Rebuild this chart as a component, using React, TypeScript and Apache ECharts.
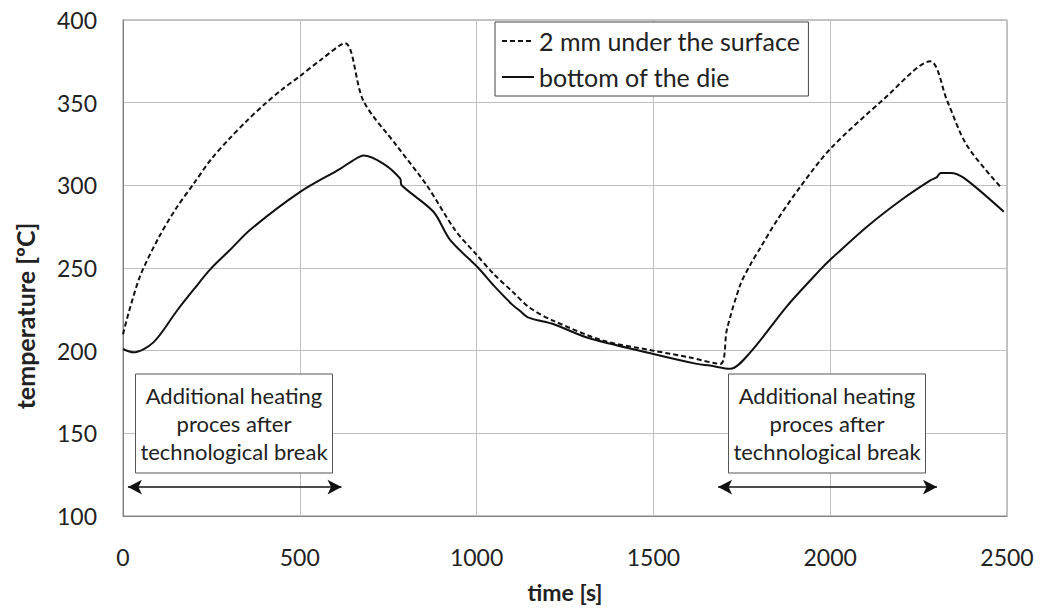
import React, { useEffect, useRef } from "react";
import * as echarts from "echarts";

const surfaceTime = [0, 20, 50, 100, 150, 200, 250, 300, 350, 400, 450, 500, 560, 628, 680, 774, 859, 939, 1000, 1050, 1100, 1150, 1218, 1359, 1500, 1600, 1689, 1708, 1746, 1774, 1802, 1850, 1915, 2000, 2151, 2283, 2331, 2387, 2486];
const surfaceTemp = [210, 226, 246, 268, 286, 301, 316, 328, 339, 349, 358, 366, 376, 386, 351, 324, 300, 273, 258, 246, 236, 226, 218, 206, 200, 196, 192, 213, 240, 252, 262, 279, 299, 322, 352, 375, 351, 324, 298];

const bottomTime = [0, 29, 86, 152, 200, 246, 303, 359, 501, 614, 650, 680, 737, 784, 788, 878, 925, 1005, 1050, 1100, 1123, 1147, 1218, 1312, 1500, 1623, 1660, 1717, 1774, 1878, 1972, 2000, 2104, 2200, 2283, 2302, 2312, 2340, 2378, 2491];
const bottomTemp = [201, 199, 205, 224, 237, 249, 261, 273, 296, 310, 315, 318, 313, 304, 300, 284, 267, 250, 239, 228, 224, 220, 216, 208, 198, 192, 191, 189, 199, 227, 249, 255, 275, 291, 303, 305, 307.5, 307.5, 304.5, 284];

const seriesNames = ["2 mm under the surface", "bottom of the die"];
const arrowRanges = [
  [14, 618],
  [1683, 2302],
];
const arrowLevel = 117.5;
const boxText = "Additional heating\nproces after\ntechnological break";
const yTitle = "temperature [ºC]";
const xTitle = "time [s]";

const FONT = "Lato";

export default function App() {
  const ref = useRef<HTMLDivElement>(null);
  useEffect(() => {
    document.body.style.margin = "0";
    const chart = echarts.init(ref.current!, undefined, { renderer: "svg" });
    const surfaceData = surfaceTime.map((t, i) => [t, surfaceTemp[i]]);
    const bottomData = bottomTime.map((t, i) => [t, bottomTemp[i]]);
    const box = (cx: number) => ({
      type: "group",
      children: [
        {
          type: "rect",
          shape: { x: cx - 98.5, y: 374, width: 197, height: 99 },
          style: { fill: "#fff", stroke: "#555", lineWidth: 1 },
          z: 10,
        },
        {
          type: "text",
          x: cx,
          y: 423.5,
          z: 11,
          style: {
            text: boxText,
            align: "center",
            verticalAlign: "middle",
            font: `22px ${FONT}`,
            lineHeight: 28,
            fill: "#222",
          },
        },
      ],
    });
    chart.setOption({
      animation: false,
      backgroundColor: "#fff",
      textStyle: { fontFamily: FONT },
      grid: {
        left: 123,
        right: 33,
        top: 20,
        bottom: 89,
        show: true,
        borderColor: "#8a8a8a",
        borderWidth: 1,
      },
      legend: {
        orient: "vertical",
        left: 495,
        top: 22,
        backgroundColor: "#fff",
        borderColor: "#444",
        borderWidth: 1,
        borderRadius: 0,
        padding: [6, 8, 6, 6],
        itemWidth: 32,
        itemHeight: 14,
        itemGap: 10,
        itemStyle: { opacity: 0 },
        textStyle: { fontSize: 25, color: "#222", fontFamily: FONT, lineHeight: 26 },
        data: seriesNames,
      },
      xAxis: {
        type: "value",
        min: 0,
        max: 2500,
        interval: 500,
        name: xTitle,
        nameLocation: "middle",
        nameGap: 64,
        nameTextStyle: { fontSize: 23, fontWeight: "bold", color: "#222", fontFamily: FONT },
        axisLine: { show: true, lineStyle: { color: "#808080", width: 1 } },
        axisTick: { show: false },
        axisLabel: {
          fontSize: 23,
          color: "#222",
          margin: 29,
          fontFamily: FONT,
          formatter: (v: number) => String(v),
        },
        splitLine: { show: true, lineStyle: { color: "#c0c0c0", width: 1 } },
      },
      yAxis: {
        type: "value",
        min: 100,
        max: 400,
        interval: 50,
        axisLine: { show: true, lineStyle: { color: "#808080", width: 1 } },
        axisTick: { show: false },
        axisLabel: { fontSize: 23, color: "#222", margin: 26, fontFamily: FONT },
        splitLine: { show: true, lineStyle: { color: "#c0c0c0", width: 1 } },
      },
      series: [
        {
          name: seriesNames[0],
          type: "line",
          data: surfaceData,
          symbol: "none",
          smooth: 0.3,
          lineStyle: { color: "#111", width: 2, type: [5, 3] },
          itemStyle: { color: "#111" },
          z: 3,
        },
        {
          name: seriesNames[1],
          type: "line",
          data: bottomData,
          symbol: "none",
          smooth: 0.3,
          lineStyle: { color: "#111", width: 2, type: "solid" },
          itemStyle: { color: "#111" },
          z: 3,
          markLine: {
            silent: true,
            symbol: ["arrow", "arrow"],
            symbolSize: [11, 14],
            label: { show: false },
            lineStyle: { color: "#111", width: 1.5, type: "solid" },
            data: arrowRanges.map((r) => [
              { coord: [r[0], arrowLevel] },
              { coord: [r[1], arrowLevel] },
            ]),
          },
        },
      ],
      graphic: [
        box(234),
        box(827),
        {
          type: "text",
          x: 25,
          y: 316,
          rotation: Math.PI / 2,
          style: {
            text: yTitle,
            align: "center",
            verticalAlign: "middle",
            font: `bold 25px ${FONT}`,
            fill: "#222",
          },
        },
      ],
    });
    return () => chart.dispose();
  }, []);
  return <div ref={ref} style={{ width: 1040, height: 608 }} />;
}
